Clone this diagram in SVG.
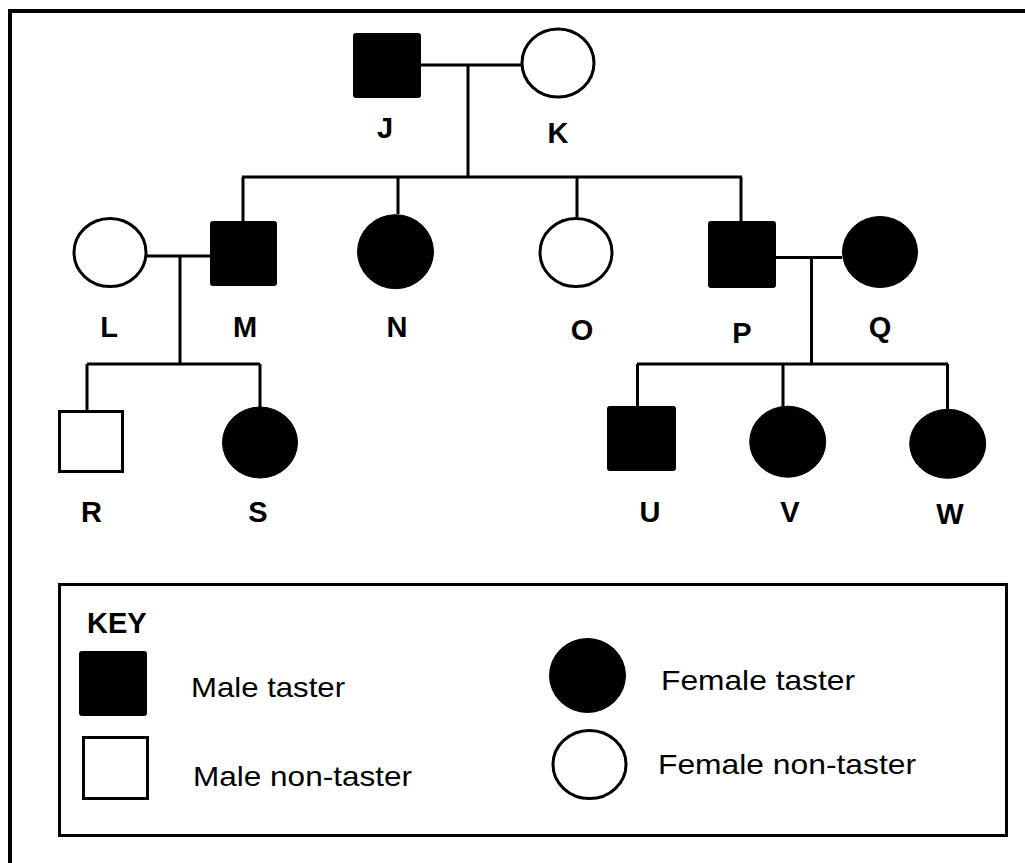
<svg xmlns="http://www.w3.org/2000/svg" width="1025" height="863" viewBox="0 0 1025 863">
<style>
.lbl{font-family:"Liberation Sans",Arial,sans-serif;font-weight:bold;font-size:29px;text-anchor:middle;fill:#000}
.key{font-family:"Liberation Sans",Arial,sans-serif;font-size:28px;fill:#000}
.filled{fill:#000;stroke:#000;stroke-width:1}
.open{fill:#fff;stroke:#000;stroke-width:3}
.ln{stroke:#000;stroke-width:3;fill:none}
</style>
<rect width="1025" height="863" fill="#fff"/>
<path d="M10,866 V11 H1028" fill="none" stroke="#000" stroke-width="4"/>
<g id="connectors" class="ln">
<path d="M421,65 H521 M468,65 V177 M242,177 H742 M243,177 V221 M398,177 V214 M577,177 V217 M741,177 V221"/>
<path d="M147,256 H210 M180,256 V364 M87,364 H260 M87,364 V410 M260,364 V407"/>
<path d="M776,257.5 H842 M811.5,257.5 V364 M637,364 H948 M637.5,364 V406 M783,364 V406 M947.5,364 V409"/>
</g>
<g id="J"><rect class="filled" x="353.5" y="33.5" width="67" height="64" rx="2"/><text class="lbl" x="385" y="138">J</text></g>
<g id="K"><ellipse class="open" cx="558" cy="63" rx="36" ry="34"/><text class="lbl" x="558" y="143">K</text></g>
<g id="L"><ellipse class="open" cx="110" cy="252.5" rx="36" ry="34"/><text class="lbl" x="109" y="337">L</text></g>
<g id="M"><rect class="filled" x="210.5" y="221.5" width="66" height="64" rx="2"/><text class="lbl" x="245" y="337">M</text></g>
<g id="N"><ellipse class="filled" cx="395.5" cy="251.7" rx="38" ry="37"/><text class="lbl" x="397" y="337">N</text></g>
<g id="O"><ellipse class="open" cx="576" cy="252.5" rx="36" ry="34"/><text class="lbl" x="582" y="340">O</text></g>
<g id="P"><rect class="filled" x="708.5" y="221.5" width="67" height="66" rx="2"/><text class="lbl" x="742" y="343">P</text></g>
<g id="Q"><ellipse class="filled" cx="880" cy="252" rx="37.5" ry="35.5"/><text class="lbl" x="880" y="337">Q</text></g>
<g id="R"><rect class="open" x="59.5" y="411.5" width="63" height="60"/><text class="lbl" x="91.5" y="522">R</text></g>
<g id="S"><ellipse class="filled" cx="260" cy="442.5" rx="37.5" ry="35.5"/><text class="lbl" x="258" y="522">S</text></g>
<g id="U"><rect class="filled" x="607.5" y="406.5" width="68" height="64" rx="2"/><text class="lbl" x="650" y="522">U</text></g>
<g id="V"><ellipse class="filled" cx="787.7" cy="441.7" rx="38" ry="35.5"/><text class="lbl" x="790" y="522">V</text></g>
<g id="W"><ellipse class="filled" cx="947.7" cy="443.8" rx="38" ry="34.5"/><text class="lbl" x="950" y="524">W</text></g>
<g id="key">
<rect x="59.5" y="584.5" width="947" height="251" fill="none" stroke="#000" stroke-width="3"/>
<text class="lbl" x="87" y="633" text-anchor="start" style="text-anchor:start">KEY</text>
<rect class="filled" x="79.5" y="651.5" width="67" height="64" rx="2"/>
<text class="key" x="191" y="697" textLength="154" lengthAdjust="spacingAndGlyphs">Male taster</text>
<rect class="open" x="83.5" y="737.5" width="64" height="61"/>
<text class="key" x="193" y="786" textLength="219" lengthAdjust="spacingAndGlyphs">Male non-taster</text>
<ellipse class="filled" cx="587.5" cy="675.5" rx="38" ry="37"/>
<text class="key" x="661" y="690" textLength="194" lengthAdjust="spacingAndGlyphs">Female taster</text>
<ellipse class="open" cx="589.5" cy="764.5" rx="36.5" ry="34"/>
<text class="key" x="658" y="774" textLength="258" lengthAdjust="spacingAndGlyphs">Female non-taster</text>
</g>
</svg>
